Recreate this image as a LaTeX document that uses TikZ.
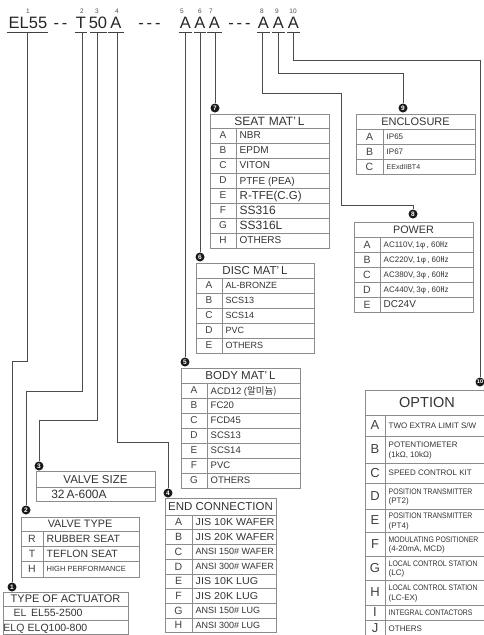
\documentclass[tikz,border=0pt]{standalone}
\usepackage{fontspec}
\setmainfont{Liberation Sans}
\newfontfamily\cjk{Noto Sans CJK KR}
\newfontfamily\widef[FakeStretch=1.07]{Liberation Sans}
\newfontfamily\cndf[FakeStretch=0.86]{Liberation Sans}
\newcommand\fsz[1]{\fontsize{#1}{#1}\selectfont}
\tikzset{
  tb/.style={draw=black!45, line width=0.6pt},
  con/.style={draw=black!70, line width=0.7pt},
  ul/.style={draw=black!75, line width=0.8pt},
  hd/.style={inner sep=0pt, text depth=0pt, text=black!80, font=\fsz{11.5}},
  ky/.style={inner sep=0pt, text depth=0pt, text=black!75, font=\fsz{10}},
  vl/.style={inner sep=0pt, text depth=0pt, anchor=west, text=black!80, font=\fsz{10}},
  bul/.style={circle, fill=black!90, text=white, inner sep=0pt, minimum size=9pt, font=\bfseries\fsz{6.5}},
  num/.style={inner sep=0pt, text=black!70, font=\fsz{6.5}},
  big/.style={inner sep=0pt, anchor=base, text=black!85, font=\fsz{16.5}},
}
% name, x1, xdiv, x2, y1, y2, key, value
\newcommand\tabrow[8]{%
  \draw[tb] (#2,#5) rectangle (#4,#6) (#3,#5) -- (#3,#6);
  \node[ky] (#1k) at ({(#2+#3)/2},{(#5+#6)/2}) {#7};
  \node[vl] (#1v) at ({#3+3.5},{(#5+#6)/2}) {#8};}
\begin{document}
\begin{tikzpicture}[x=1pt,y=-1pt]
\useasboundingbox (0,0) rectangle (484,635);
\clip (0,0) rectangle (484,635);

% ---------- header code ----------
\node[big] (h1) at (28,28) {EL55};
\node[big] (d1) at (60.5,28) {-\kern3pt-};
\node[big] (h2) at (81,28) {T};
\node[big] (h3) at (98,28) {50};
\node[big] (h4) at (116,28) {A};
\node[big] (d2) at (149.5,28) {-\kern3pt-\kern3pt-};
\node[big] (h5) at (185.5,28) {A};
\node[big] (h6) at (200,28) {A};
\node[big] (h7) at (214.5,28) {A};
\node[big] (d3) at (239.5,28) {-\kern3pt-\kern3pt-};
\node[big] (h8) at (263.5,28) {A};
\node[big] (h9) at (278.5,28) {A};
\node[big] (h10) at (293.5,28) {A};
\foreach \a/\b in {7/48,75/87,90/107,108/124,179/192,194/206,207/222,257/270,272/285,287/300}
  {\draw[ul] (\a,32) -- (\b,32);}
\foreach \n/\x in {1/28,2/82,3/97,4/117,5/182,6/200,7/211,8/262,9/277,10/293}
  {\node[num] (n\n) at (\x,11) {\n};}
\coordinate (u1) at (27,32);
\coordinate (u2) at (82,32);
\coordinate (u3) at (97,32);
\coordinate (u4) at (117,32);
\coordinate (u5) at (185,32);
\coordinate (u6) at (200,32);
\coordinate (u7) at (215,32);
\coordinate (u8) at (262,32);
\coordinate (u9) at (278,32);
\coordinate (u10) at (293,32);

% ---------- bullets ----------
\node[bul] (b1) at (12,587) {1};
\node[bul] (b2) at (26,510) {2};
\node[bul] (b3) at (39,466) {3};
\node[bul] (b4) at (168,493) {4};
\node[bul] (b5) at (185,362) {5};
\node[bul] (b6) at (200,257) {6};
\node[bul] (b7) at (215,108) {7};
\node[bul] (b8) at (413,214) {8};
\node[bul] (b9) at (403,108) {9};
\node[bul, font=\bfseries\fsz{5.5}] (b10) at (480,382) {10};

% ---------- connectors ----------
\draw[con] (u1) -- (27,361) -| (b1);
\draw[con] (u2) -- (82,391) -| (b2);
\draw[con] (u3) -- (97,420) -| (b3);
\draw[con] (u4) -- (117,442) -| (b4);
\draw[con] (u5) -- (b5);
\draw[con] (u6) -- (b6);
\draw[con] (u7) -- (b7);
\draw[con] (u8) |- (341,93) |- (413,205) -- (b8);
\draw[con] (u9) |- (403,73) -- (b9);
\draw[con] (u10) |- (480,60) -- (b10);

% ---------- 7 seat ----------
\begin{scope}[hd/.append style={font=\fsz{12}}]
\draw[tb] (210,114) rectangle (329,128);
\node[hd] (seat) at (269.5,121) {SEAT\hspace{4pt}MAT’\hspace{2pt}L};
\foreach \k/\v [count=\i from 0] in {A/NBR,B/EPDM,C/VITON,D/PTFE (PEA),E/{\fsz{11.5}R-TFE(C.G)},F/{\fsz{12}SS316},G/{\fsz{12}SS316L},H/OTHERS}
  {\tabrow{seat\k}{210}{236}{329}{128+15*\i}{143+15*\i}{\k}{\v}}
\end{scope}

% ---------- 9 enclosure ----------
\begin{scope}[hd/.append style={font=\fsz{11}}, ky/.append style={font=\fsz{10.5}}, vl/.append style={font=\fsz{8}}]
\draw[tb] (356,114) rectangle (475,129);
\node[hd] (encl) at (415.5,121.5) {ENCLOSURE};
\foreach \k/\v [count=\i from 0] in {A/IP65,B/IP67,C/{\fsz{7}EExdIIBT4}}
  {\tabrow{encl\k}{356}{383}{475}{129+15*\i}{144+15*\i}{\k}{\v}}
\end{scope}

% ---------- 8 power ----------
\begin{scope}[hd/.append style={font=\fsz{10.8}}, ky/.append style={font=\fsz{10.5}}, vl/.append style={font=\fsz{8}}]
\draw[tb] (354,222) rectangle (473,237);
\node[hd] (pow) at (413.5,229.5) {POWER};
\foreach \k/\v [count=\i from 0] in {A/{AC110V,\,1φ\,,\;60\cjk{㎐}},B/{AC220V,\,1φ\,,\;60\cjk{㎐}},C/{AC380V,\,3φ\,,\;60\cjk{㎐}},D/{AC440V,\,3φ\,,\;60\cjk{㎐}},E/{\fsz{10}DC24V}}
  {\tabrow{pow\k}{354}{380}{473}{237+15*\i}{252+15*\i}{\k}{\v}}
\end{scope}

% ---------- 6 disc ----------
\begin{scope}[hd/.append style={font=\fsz{11.5}}, vl/.append style={font=\fsz{9}}]
\draw[tb] (196,263) rectangle (314,278);
\node[hd] (disc) at (255,270.5) {DISC MAT’\hspace{2pt}L};
\foreach \k/\v [count=\i from 0] in {A/AL-BRONZE,B/SCS13,C/SCS14,D/PVC,E/OTHERS}
  {\tabrow{disc\k}{196}{222}{314}{278+15*\i}{293+15*\i}{\k}{\v}}
\end{scope}

% ---------- 5 body ----------
\begin{scope}[hd/.append style={font=\fsz{11.5}}, vl/.append style={font=\fsz{9.5}}]
\draw[tb] (181,368) rectangle (300,383);
\node[hd] (body) at (240.5,375.5) {BODY MAT’\hspace{2pt}L};
\foreach \k/\v [count=\i from 0] in {A/{ACD12 (\cjk{알미늄})},B/FC20,C/FCD45,D/SCS13,E/SCS14,F/PVC,G/OTHERS}
  {\tabrow{body\k}{181}{207}{300}{383+15*\i}{398+15*\i}{\k}{\v}}
\end{scope}

% ---------- 4 end connection ----------
\begin{scope}[hd/.append style={font=\fsz{11.5}}, ky/.append style={font=\fsz{10.5}}, vl/.append style={font=\widef\fsz{10}}]
\draw[tb] (165,498) rectangle (276,515);
\node[hd] (endc) at (220.5,506.5) {END CONNECTION};
\foreach \k/\v [count=\i from 0] in {A/JIS 10K WAFER,B/JIS 20K WAFER,C/{\rmfamily\fsz{9}ANSI 150\# WAFER},D/{\rmfamily\fsz{9}ANSI 300\# WAFER},E/JIS 10K LUG,F/JIS 20K LUG,G/{\rmfamily\fsz{9}ANSI 150\# LUG},H/{\rmfamily\fsz{9}ANSI 300\# LUG}}
  {\tabrow{endc\k}{165}{192}{276}{515+14.7*\i}{529.7+14.7*\i}{\k}{\v}}
\end{scope}

% ---------- 3 valve size ----------
\draw[tb] (36,471) rectangle (155,487);
\node[hd, font=\fsz{11.5}] (vsize) at (95.5,479) {VALVE SIZE};
\draw[tb] (36,487) rectangle (155,501);
\node[hd, font=\fsz{12}] (vsizev) at (79,494) {32\,A-600A};

% ---------- 2 valve type ----------
\begin{scope}[hd/.append style={font=\fsz{10.8}}, ky/.append style={font=\fsz{10.5}}, vl/.append style={font=\fsz{10.5}}]
\draw[tb] (21,517) rectangle (139,531);
\node[hd] (vtype) at (80,524) {VALVE TYPE};
\foreach \k/\v [count=\i from 0] in {R/RUBBER SEAT,T/TEFLON SEAT,H/{\fsz{7.5}HIGH PERFORMANCE}}
  {\tabrow{vtype\k}{21}{43}{139}{531+15.33*\i}{546.33+15.33*\i}{\k}{\v}}
\end{scope}

% ---------- 1 type of actuator ----------
\draw[tb] (3,592) rectangle (128,606);
\node[hd, font=\fsz{11}] (act) at (65.5,599) {TYPE OF ACTUATOR};
\draw[tb] (3,606) rectangle (128,620);
\draw[tb] (3,620) rectangle (128,634.5);
\node[ky, font=\fsz{10.5}] (actELk) at (20,613) {EL};
\node[vl, font=\fsz{10.5}] (actELv) at (31,613) {EL55-2500};
\node[ky, font=\fsz{10.5}] (actELQk) at (14,627.5) {ELQ};
\node[vl, font=\fsz{10.5}] (actELQv) at (27.5,627.5) {ELQ100-800};

% ---------- 10 option ----------
\begin{scope}[ky/.append style={font=\fsz{13}}, vl/.append style={align=left, font=\fontsize{8}{9.5}\selectfont}]
\draw[tb] (365,390) rectangle (520,415);
\node[hd, font=\fsz{14.5}] (opt) at (427,402.5) {OPTION};
\foreach \k/\a/\b/\v in {A/415/436/{TWO EXTRA LIMIT S/W},B/436/463/{POTENTIOMETER\\(1kΩ, 10kΩ)},C/463/483/{SPEED CONTROL KIT},D/483/509/{\cndf POSITION TRANSMITTER\\(PT2)},E/509/532/{\cndf POSITION TRANSMITTER\\(PT4)},F/532/556/{\cndf MODULATING POSITIONER\\(4-20mA, MCD)},G/556/580/{\cndf LOCAL CONTROL STATION\\(LC)},H/580/605/{\cndf LOCAL CONTROL STATION\\(LC-EX)},I/605/620/{\cndf INTEGRAL CONTACTORS},J/620/637/{OTHERS}}
  {\tabrow{opt\k}{365}{385}{520}{\a}{\b}{\k}{\v}}
\end{scope}
\end{tikzpicture}
\end{document}
